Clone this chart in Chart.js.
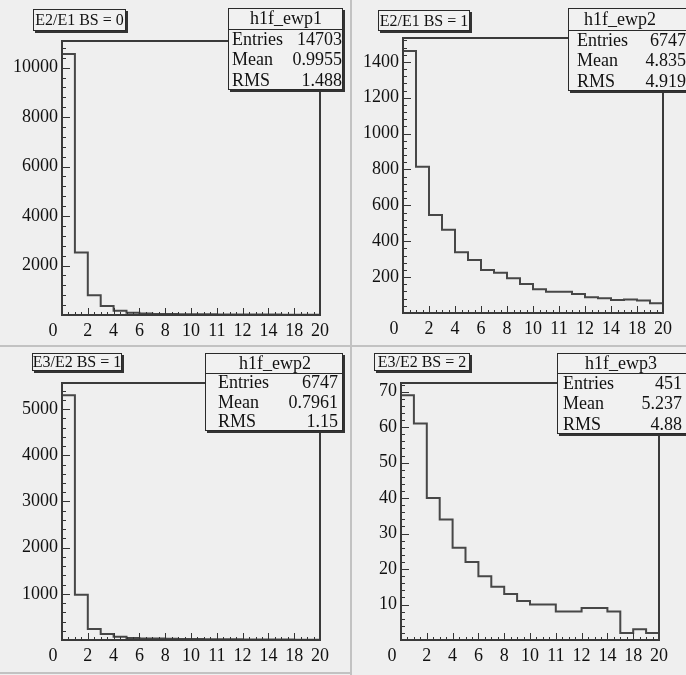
<!DOCTYPE html>
<html>
<head>
<meta charset="utf-8">
<script src="https://cdn.jsdelivr.net/npm/chart.js@4.4.0/dist/chart.umd.min.js"></script>
<style>
  html, body { margin: 0; padding: 0; background: #efefef; }
  #wrap { position: relative; width: 686px; height: 675px; overflow: hidden; }
  canvas { position: absolute; }
  .sep { position: absolute; background: #c2c2c2; }
</style>
</head>
<body>
<div id="wrap">
  <canvas id="c1" width="350" height="346" style="left:0;top:0"></canvas>
  <canvas id="c2" width="336" height="346" style="left:350px;top:0"></canvas>
  <canvas id="c3" width="350" height="329" style="left:0;top:346px"></canvas>
  <canvas id="c4" width="336" height="329" style="left:350px;top:346px"></canvas>
  <div class="sep" style="left:350px;top:0;width:2px;height:675px"></div>
  <div class="sep" style="left:0;top:345px;width:686px;height:2px"></div>
  <div class="sep" style="left:0;top:672px;width:350px;height:2px"></div>
</div>
<script>
// x axis: 20 bins of width 1, the printed labels are as in the figure
var xTickValues = [0, 2, 4, 6, 8, 10, 12, 14, 16, 18, 20];
var xTickLabels = ['0', '2', '4', '6', '8', '10', '11', '12', '14', '18', '20'];

// bin contents
var countsE2E1bs0 = [10550, 2530, 800, 360, 170, 95, 60, 45, 40, 35, 30, 28, 25, 22, 20, 18, 16, 15, 14, 12];
var countsE2E1bs1 = [1460, 815, 547, 464, 339, 296, 240, 225, 194, 162, 132, 119, 119, 106, 88, 82, 73, 75, 70, 54];
var countsE3E2bs1 = [5300, 980, 240, 130, 70, 45, 35, 30, 25, 22, 20, 18, 16, 14, 12, 11, 10, 9, 8, 7];
var countsE3E2bs2 = [69, 61, 40, 34, 26, 22, 18, 15, 13, 11, 10, 10, 8, 8, 9, 9, 8, 2, 3, 2];

var yTicksE2E1bs0 = [2000, 4000, 6000, 8000, 10000];
var yTicksE2E1bs1 = [200, 400, 600, 800, 1000, 1200, 1400];
var yTicksE3E2bs1 = [1000, 2000, 3000, 4000, 5000];
var yTicksE3E2bs2 = [10, 20, 30, 40, 50, 60, 70];

// pave texts
var titles = ['E2/E1 BS = 0', 'E2/E1 BS = 1', 'E3/E2 BS = 1', 'E3/E2 BS = 2'];
var histNames = ['h1f_ewp1', 'h1f_ewp2', 'h1f_ewp2', 'h1f_ewp3'];
var entries = ['14703', '6747', '6747', '451'];
var means = ['0.9955', '4.835', '0.7961', '5.237'];
var rmsValues = ['1.488', '4.919', '1.15', '4.88'];

var serif = "'Liberation Serif', 'Times New Roman', serif";

// where things sit inside each canvas
var layouts = [
  { frame: {l: 62, t: 41, r: 320, b: 315}, title: {x: 33, y: 9, w: 93, h: 22},
    stats: {x: 228, y: 8, w: 115, h: 82, head: 21, lx: 232, vx: 342, hx: 286} },
  { frame: {l: 53, t: 38, r: 313, b: 313}, title: {x: 28, y: 10, w: 92, h: 21},
    stats: {x: 218, y: 8, w: 130, h: 83, head: 22, lx: 227, vx: 336, hx: 270} },
  { frame: {l: 62, t: 37, r: 320, b: 294}, title: {x: 32, y: 7, w: 90, h: 18},
    stats: {x: 205, y: 7, w: 138, h: 78, head: 20, lx: 218, vx: 338, hx: 275} },
  { frame: {l: 51, t: 37, r: 309, b: 294}, title: {x: 24, y: 7, w: 96, h: 18},
    stats: {x: 207, y: 7, w: 130, h: 81, head: 20, lx: 213, vx: 332, hx: 271} }
];

function drawPave(ctx, x, y, w, h) {
  ctx.fillStyle = '#333';
  ctx.fillRect(x + 2, y + 2, w, h);
  ctx.fillStyle = '#f1f1f1';
  ctx.fillRect(x, y, w, h);
  ctx.strokeStyle = '#2a2a2a';
  ctx.lineWidth = 1;
  ctx.strokeRect(x + 0.5, y + 0.5, w - 1, h - 1);
}

function makePanel(canvasId, counts, yTicks, idx) {
  var lay = layouts[idx];
  var canvas = document.getElementById(canvasId);
  var W = canvas.width, H = canvas.height;

  let pts = counts.map(function(v, i) { return {x: i, y: v}; });
  pts.push({x: counts.length, y: counts[counts.length - 1]});

  var rootLook = {
    id: 'rootLook' + idx,
    afterDatasetsDraw: function(chart) {
      var ctx = chart.ctx, a = chart.chartArea;
      var xs = chart.scales.x, ys = chart.scales.y;
      ctx.save();
      ctx.strokeStyle = '#333';
      ctx.lineWidth = 1;
      ctx.beginPath();
      for (var v = 0; v <= 20; v += 0.5) {
        var px = Math.round(xs.getPixelForValue(v)) + 0.5;
        var len = (v % 2 === 0) ? 7 : 3;
        ctx.moveTo(px, a.bottom);
        ctx.lineTo(px, a.bottom - len);
      }
      var minor = (yTicks[1] - yTicks[0]) / 5;
      for (var k = 0; k * minor <= ys.max; k++) {
        var py = Math.round(ys.getPixelForValue(k * minor)) + 0.5;
        var l = (k % 5 === 0) ? 8 : 4;
        ctx.moveTo(a.left, py);
        ctx.lineTo(a.left + l, py);
      }
      ctx.stroke();
      ctx.lineWidth = 2;
      ctx.strokeStyle = '#3a3a3a';
      ctx.strokeRect(a.left, a.top, a.right - a.left, a.bottom - a.top);
      ctx.restore();
    },
    afterDraw: function(chart) {
      var ctx = chart.ctx;
      var t = lay.title, s = lay.stats;
      ctx.save();
      // title pave
      drawPave(ctx, t.x, t.y, t.w, t.h);
      ctx.fillStyle = '#111';
      ctx.font = '16px ' + serif;
      ctx.textAlign = 'center';
      ctx.textBaseline = 'middle';
      ctx.fillText(titles[idx], t.x + t.w / 2, t.y + t.h / 2 + 1);
      // stats pave
      drawPave(ctx, s.x, s.y, s.w, s.h);
      ctx.beginPath();
      ctx.moveTo(s.x, s.y + s.head + 0.5);
      ctx.lineTo(s.x + s.w, s.y + s.head + 0.5);
      ctx.stroke();
      ctx.fillStyle = '#111';
      ctx.font = '18px ' + serif;
      ctx.fillText(histNames[idx], s.hx, s.y + s.head / 2 + 1);
      var rowH = (s.h - s.head) / 3;
      var names = ['Entries', 'Mean', 'RMS'];
      var vals = [entries[idx], means[idx], rmsValues[idx]];
      for (var r = 0; r < 3; r++) {
        var cy = s.y + s.head + rowH * (r + 0.5) + 1;
        ctx.textAlign = 'left';
        ctx.fillText(names[r], s.lx, cy);
        ctx.textAlign = 'right';
        ctx.fillText(vals[r], s.vx, cy);
      }
      ctx.restore();
    }
  };

  new Chart(canvas, {
    type: 'line',
    data: {
      datasets: [{
        data: pts,
        stepped: 'before',
        borderColor: '#474747',
        borderWidth: 2,
        pointRadius: 0,
        fill: false
      }]
    },
    options: {
      responsive: false,
      animation: false,
      devicePixelRatio: 1,
      layout: { padding: { left: 0, top: lay.frame.t, right: W - lay.frame.r, bottom: 0 } },
      plugins: {
        legend: { display: false },
        tooltip: { enabled: false }
      },
      scales: {
        x: {
          type: 'linear',
          min: 0,
          max: 20,
          afterFit: function(sc) { sc.height = H - lay.frame.b; },
          afterBuildTicks: function(sc) {
            sc.ticks = xTickValues.map(function(v) { return {value: v}; });
          },
          ticks: {
            // the "0" sits a little left of the axis in the original
            callback: function(v) {
              var lbl = xTickLabels[xTickValues.indexOf(v)];
              return v === 0 ? lbl + '\u2002\u2002' : lbl;
            },
            font: { family: serif, size: 18 },
            color: '#111',
            padding: 5,
            maxRotation: 0,
            autoSkip: false
          },
          grid: { display: false, drawTicks: false },
          border: { display: false }
        },
        y: {
          type: 'linear',
          min: 0,
          max: Math.max.apply(null, counts) * 1.05,
          afterFit: function(sc) { sc.width = lay.frame.l; },
          afterBuildTicks: function(sc) {
            sc.ticks = yTicks.map(function(v) { return {value: v}; });
          },
          ticks: {
            callback: function(v) { return String(v); },
            font: { family: serif, size: 18 },
            color: '#111',
            padding: 4,
            autoSkip: false
          },
          grid: { display: false, drawTicks: false },
          border: { display: false }
        }
      }
    },
    plugins: [rootLook]
  });
}

makePanel('c1', countsE2E1bs0, yTicksE2E1bs0, 0);
makePanel('c2', countsE2E1bs1, yTicksE2E1bs1, 1);
makePanel('c3', countsE3E2bs1, yTicksE3E2bs1, 2);
makePanel('c4', countsE3E2bs2, yTicksE3E2bs2, 3);
</script>
</body>
</html>
